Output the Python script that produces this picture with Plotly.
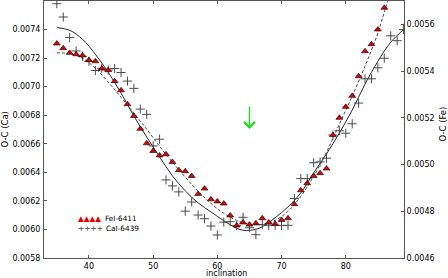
import plotly.graph_objects as go

# ---------------- data ----------------
inc_fe = [35, 36, 37, 38, 39, 40, 41, 42, 43, 44, 45, 46, 47, 48, 49, 50, 51, 52, 53, 54,
          55, 56, 57, 58, 59, 60, 61, 62, 63, 64, 65, 66, 67, 68, 69, 70, 71, 72, 73, 74,
          75, 76, 77, 78, 79, 80, 81, 82, 83, 84, 85, 86]
oc_fe = [0.005518, 0.005498, 0.005478, 0.005472, 0.005467, 0.005447, 0.005442, 0.005411,
         0.005404, 0.005357, 0.005318, 0.005258, 0.005208, 0.005153, 0.005091, 0.005058,
         0.005039, 0.005044, 0.005011, 0.004976, 0.004971, 0.004951, 0.004874, 0.004897,
         0.004851, 0.004842, 0.004833, 0.004782, 0.004739, 0.004752, 0.004743, 0.004749,
         0.004770, 0.004752, 0.004746, 0.004763, 0.004770, 0.004830, 0.004890, 0.004920,
         0.004951, 0.004963, 0.004983, 0.005126, 0.005200, 0.005247, 0.005294, 0.005378,
         0.005485, 0.005515, 0.005578, 0.005671]

inc_ca = [35, 36, 37, 38, 39, 40, 41, 42, 43, 44, 45, 46, 47, 48, 49, 50, 51, 52, 53, 54,
          55, 56, 57, 58, 59, 60, 61, 62, 63, 64, 65, 66, 67, 68, 69, 70, 71, 72, 73, 74,
          75, 76, 77, 78, 79, 80, 81, 82, 83, 84, 85, 86, 87, 88, 89]
oc_ca = [0.007581, 0.007488, 0.007344, 0.007250, 0.007213, 0.007178, 0.007113, 0.007129,
         0.007116, 0.007127, 0.007099, 0.007039, 0.006988, 0.006843, 0.006806, 0.006585,
         0.006632, 0.006347, 0.006305, 0.006263, 0.006128, 0.006192, 0.006101, 0.006075,
         0.006024, 0.005961, 0.006051, 0.006054, 0.006026, 0.006085, 0.006012, 0.005963,
         0.006033, 0.006029, 0.006029, 0.006028, 0.006029, 0.006216, 0.006356, 0.006356,
         0.006467, 0.006473, 0.006499, 0.006661, 0.006691, 0.006674, 0.006740, 0.006885,
         0.007055, 0.007055, 0.007132, 0.007199, 0.007356, 0.007322, 0.007400]

# fitted model curves
fit_inc_ca = [35, 37, 39, 41, 43, 45, 47, 49, 51, 53, 55, 57, 59, 61, 62, 63, 64, 65, 66,
              67, 69, 71, 73, 75, 77, 79, 81, 83, 85, 87, 89]
fit_ca = [0.007414, 0.007395, 0.007332, 0.007227, 0.007101, 0.006955, 0.006794, 0.006647,
          0.006508, 0.006375, 0.006270, 0.006186, 0.006123, 0.006061, 0.006033, 0.006008,
          0.005994, 0.005994, 0.006001, 0.006019, 0.006082, 0.006158, 0.006256, 0.006396,
          0.006529, 0.006675, 0.006836, 0.007018, 0.007178, 0.007311, 0.007400]

fit_inc_fe = [35, 37, 39, 41, 43, 45, 47, 49, 51, 53, 55, 57, 59, 61, 63, 65, 67, 69, 71,
              73, 75, 77, 79, 81, 83, 84, 85, 86, 87]
fit_fe = [0.005478, 0.005475, 0.005455, 0.005412, 0.005353, 0.005288, 0.005220, 0.005151,
          0.005078, 0.005010, 0.004946, 0.004886, 0.004834, 0.004791, 0.004761, 0.004744,
          0.004744, 0.004761, 0.004800, 0.004864, 0.004950, 0.005053, 0.005173, 0.005293,
          0.005421, 0.005490, 0.005562, 0.005652, 0.005742]

x_ticks = [40, 50, 60, 70, 80]
ca_ticks = [0.0058, 0.0060, 0.0062, 0.0064, 0.0066, 0.0068, 0.0070, 0.0072, 0.0074]
fe_ticks = [0.0046, 0.0048, 0.0050, 0.0052, 0.0054, 0.0056]

arrow_inc = 65
arrow_ca = 0.006703

label_fe = "FeI-6411"
label_ca = "CaI-6439"

# ---------------- figure ----------------
FONT = "DejaVu Sans"
AX = "#555555"

fig = go.Figure()

fig.add_trace(go.Scatter(x=fit_inc_ca, y=fit_ca, mode="lines", yaxis="y",
                         line=dict(color="#2a2a2a", width=1, shape="spline"),
                         showlegend=False, hoverinfo="skip"))
fig.add_trace(go.Scatter(x=inc_ca, y=oc_ca, mode="markers", yaxis="y", name=label_ca,
                         marker=dict(symbol="cross-thin", size=6.5,
                                     line=dict(color="#4a4a4a", width=1)),
                         showlegend=False))
fig.add_trace(go.Scatter(x=fit_inc_fe, y=fit_fe, mode="lines", yaxis="y2",
                         line=dict(color="#444444", width=1, dash="3px,2px", shape="spline"),
                         showlegend=False, hoverinfo="skip"))
fig.add_trace(go.Scatter(x=inc_fe, y=oc_fe, mode="markers", yaxis="y2", name=label_fe,
                         marker=dict(symbol="triangle-up", size=6, color="#e00000",
                                     line=dict(color="#000000", width=0.6)),
                         showlegend=False))

axis_common = dict(showline=True, linecolor=AX, linewidth=1, ticks="inside", ticklen=3,
                   tickcolor=AX, showgrid=False, zeroline=False, automargin=False,
                   tickfont=dict(family=FONT, size=8, color="#000"))

fig.update_layout(
    width=448, height=278,
    margin=dict(l=44, r=44, t=1, b=20),
    paper_bgcolor="white", plot_bgcolor="white",
    showlegend=False,
    xaxis=dict(range=[33, 89.07], tickvals=x_ticks, mirror="ticks", ticklabelstandoff=0,
               **axis_common),
    yaxis=dict(range=[0.0058, 0.0076], tickvals=ca_ticks, tickformat=".4f",
               ticklabelstandoff=1, **axis_common),
    yaxis2=dict(range=[0.0046, 0.0057], tickvals=fe_ticks, tickformat=".4f",
                overlaying="y", side="right", ticklabelstandoff=0, **axis_common),
)

TF = dict(family=FONT, size=8.5, color="#000")
# axis titles
fig.add_annotation(xref="paper", yref="paper", x=0.5, y=0, xshift=2, yshift=-15.3,
                   xanchor="center", yanchor="middle", showarrow=False, text="inclination",
                   font=dict(family=FONT, size=8, color="#000"))
fig.add_annotation(xref="paper", yref="paper", x=0, y=0.5, xshift=-40, xanchor="center",
                   yanchor="middle", textangle=-90, showarrow=False, text="O-C (Ca)", font=TF)
fig.add_annotation(xref="paper", yref="paper", x=1, y=0.5, xshift=38, yshift=5,
                   xanchor="center", yanchor="middle", textangle=-90, showarrow=False,
                   text="O-C (Fe)", font=TF)

# green arrow
fig.add_annotation(x=arrow_inc, y=arrow_ca, xref="x", yref="y", ax=0, ay=-24,
                   text="", showarrow=True, arrowhead=4, arrowsize=1.5, arrowwidth=1.4,
                   arrowcolor="#22dd22", standoff=0)

# legend (drawn as text, matplotlib style with four sample markers)
fig.add_annotation(xref="paper", yref="paper", x=0.089, y=0.153, xanchor="left",
                   yanchor="middle", showarrow=False, text="▲▲▲▲",
                   font=dict(family=FONT, size=7.5, color="#e00000"))
fig.add_annotation(xref="paper", yref="paper", x=0.1647, y=0.153, xanchor="left",
                   yanchor="middle", showarrow=False, text=label_fe,
                   font=dict(family=FONT, size=7.3, color="#000"))
fig.add_annotation(xref="paper", yref="paper", x=0.089, y=0.113, xanchor="left",
                   yanchor="middle", showarrow=False, text="++++",
                   font=dict(family=FONT, size=7.5, color="#444"))
fig.add_annotation(xref="paper", yref="paper", x=0.1667, y=0.113, xanchor="left",
                   yanchor="middle", showarrow=False, text=label_ca,
                   font=dict(family=FONT, size=7.3, color="#000"))

fig.write_html("out.html", config={"displayModeBar": False},
               post_script="document.body.style.margin='0px';")
